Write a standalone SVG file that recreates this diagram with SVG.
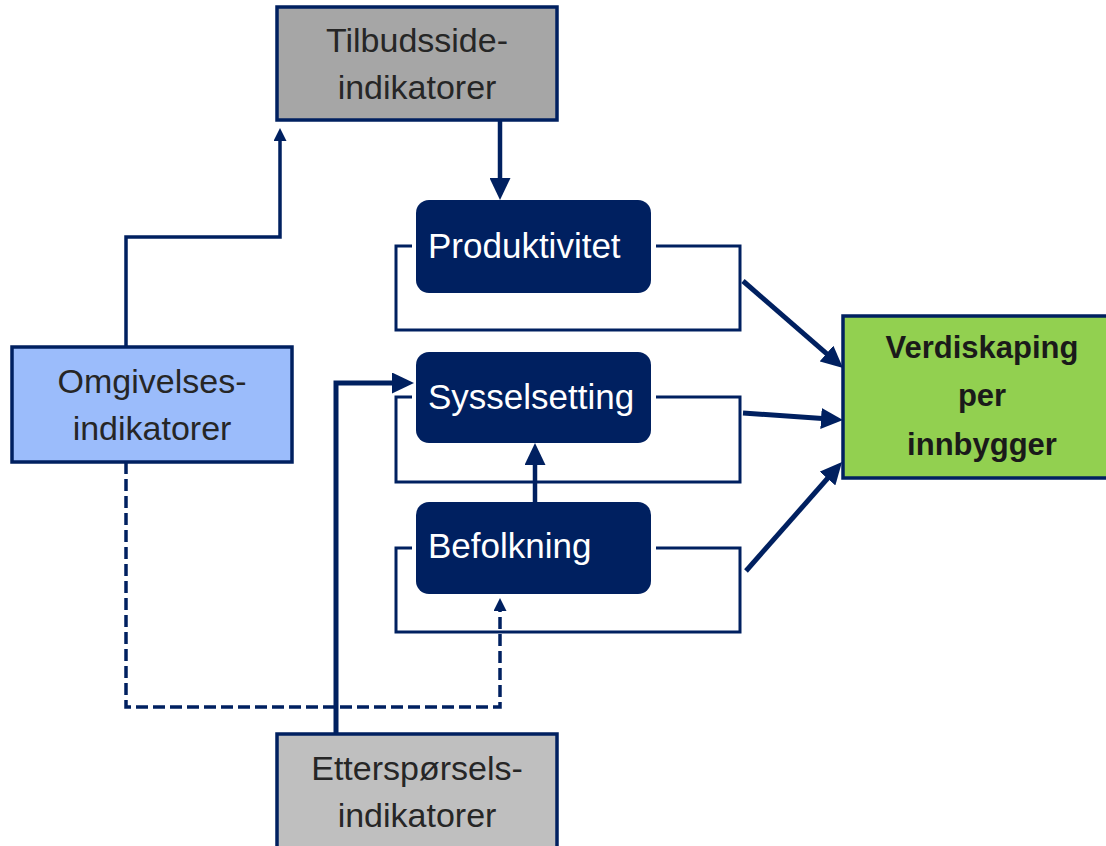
<svg xmlns="http://www.w3.org/2000/svg" width="1106" height="846" viewBox="0 0 1106 846">
<style>
  .box { stroke: #002060; stroke-width: 3.5; }
  .dark { fill: #002060; }
  .lbl { font-family: "Liberation Sans", Arial, sans-serif; font-size: 34px; fill: #262626; text-anchor: middle; }
  .wlbl { font-family: "Liberation Sans", Arial, sans-serif; font-size: 35px; fill: #ffffff; }
  .blbl { font-family: "Liberation Sans", Arial, sans-serif; font-size: 31px; font-weight: bold; fill: #1a1a1a; text-anchor: middle; }
  .conn { fill: none; stroke: #002060; stroke-linejoin: miter; }
  .loop { stroke-width: 3; }
</style>
<defs>
  <marker id="big" markerUnits="userSpaceOnUse" markerWidth="22" markerHeight="21" viewBox="0 0 22 21" refX="12" refY="10.5" orient="auto">
    <path d="M0,0 L22,10.5 L0,21 z" fill="#002060"/>
  </marker>
  <marker id="small" markerUnits="userSpaceOnUse" markerWidth="13" markerHeight="13" viewBox="0 0 13 13" refX="6" refY="6.5" orient="auto">
    <path d="M0,0 L13,6.5 L0,13 z" fill="#002060"/>
  </marker>
</defs>
<rect width="1106" height="846" fill="#ffffff"/>

<g id="connectors">
  <path class="conn loop" d="M412,246 L396,246 L396,330 L740,330 L740,246 L656,246"/>
  <path class="conn loop" d="M412,397 L396,397 L396,482 L740,482 L740,397 L656,397"/>
  <path class="conn loop" d="M412,548 L396,548 L396,632 L740,632 L740,548 L656,548"/>
  <path class="conn" stroke-width="4.5" d="M500,120 L500,190" marker-end="url(#big)"/>
  <path class="conn" stroke-width="3.5" d="M126,347 L126,237 L280,237 L280,135" marker-end="url(#small)"/>
  <path class="conn" stroke-width="3.5" stroke-dasharray="12 5" d="M126,462 L126,707 L500,707 L500,605" marker-end="url(#small)"/>
  <path class="conn" stroke-width="5" d="M336,734 L336,383 L404,383" marker-end="url(#big)"/>
  <path class="conn" stroke-width="4.5" d="M535,510 L535,453" marker-end="url(#big)"/>
  <path class="conn" stroke-width="5" d="M743,281 L835.5,361.4" marker-end="url(#big)"/>
  <path class="conn" stroke-width="5" d="M743,413 L833,419.3" marker-end="url(#big)"/>
  <path class="conn" stroke-width="5" d="M746,571 L835.4,469.5" marker-end="url(#big)"/>
</g>

<g id="tilbudsside">
  <rect class="box" x="277" y="7" width="280" height="113" fill="#a6a6a6"/>
  <text class="lbl" x="417" y="52">Tilbudsside-</text>
  <text class="lbl" x="417" y="99">indikatorer</text>
</g>

<g id="produktivitet">
  <rect class="dark" x="416" y="200" width="235" height="93" rx="13"/>
  <text class="wlbl" x="428" y="258">Produktivitet</text>
</g>

<g id="sysselsetting">
  <rect class="dark" x="416" y="352" width="235" height="91" rx="13"/>
  <text class="wlbl" x="428" y="409">Sysselsetting</text>
</g>

<g id="befolkning">
  <rect class="dark" x="416" y="502" width="235" height="92" rx="13"/>
  <text class="wlbl" x="428" y="558">Befolkning</text>
</g>

<g id="omgivelses">
  <rect class="box" x="12" y="347" width="280" height="115" fill="#9bbcfb"/>
  <text class="lbl" x="152" y="393">Omgivelses-</text>
  <text class="lbl" x="152" y="440">indikatorer</text>
</g>

<g id="etterspoersels">
  <rect class="box" x="277" y="734" width="280" height="125" fill="#bfbfbf"/>
  <text class="lbl" x="417" y="780">Etterspørsels-</text>
  <text class="lbl" x="417" y="827">indikatorer</text>
</g>

<g id="verdiskaping">
  <rect class="box" x="843" y="316" width="275" height="162" fill="#92d050"/>
  <text class="blbl" x="982" y="358">Verdiskaping</text>
  <text class="blbl" x="982" y="406">per</text>
  <text class="blbl" x="982" y="455">innbygger</text>
</g>
</svg>
